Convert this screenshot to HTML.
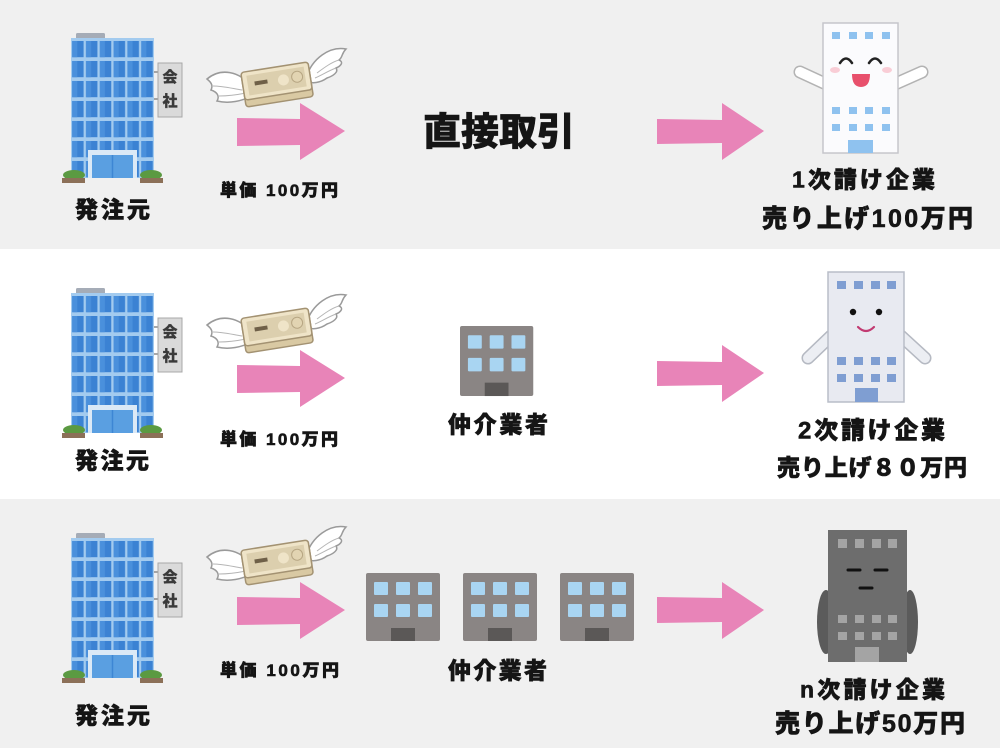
<!DOCTYPE html>
<html><head><meta charset="utf-8"><style>
html,body{margin:0;padding:0;background:#fff;}
svg{display:block;}
text{font-family:"Liberation Sans","Noto Sans CJK JP",sans-serif;font-weight:900;fill:#151515;stroke:#151515;stroke-width:0.6px;}
</style></head><body>
<svg width="1000" height="748" viewBox="0 0 1000 748" xmlns="http://www.w3.org/2000/svg">
<defs>
<pattern id="win" x="0" y="0" width="13.83" height="20" patternUnits="userSpaceOnUse">
<rect x="1.2" y="3" width="11.4" height="16.2" fill="#3b82d3"/>
<rect x="1.2" y="3" width="5" height="16.2" fill="#4a90dc"/>
</pattern>
<g id="bb">
 <rect x="5" y="-5" width="29" height="7" rx="1.5" fill="#a5acb7"/>
 <rect x="0" y="0" width="83" height="140" fill="#a3cbef"/>
 <rect x="0" y="0" width="83" height="140" fill="url(#win)"/>
 <rect x="17" y="112" width="49" height="28" fill="#dbe9f6"/>
 <rect x="21" y="117" width="41" height="23" fill="#5a9fe1"/>
 <line x1="41.5" y1="117" x2="41.5" y2="140" stroke="#3d86d4" stroke-width="1.5"/>
 <ellipse cx="3" cy="137" rx="11" ry="5" fill="#5b9a42"/>
 <rect x="-9" y="140" width="23" height="5" fill="#8c7058"/>
 <ellipse cx="80" cy="137" rx="11" ry="5" fill="#5b9a42"/>
 <rect x="69" y="140" width="23" height="5" fill="#8c7058"/>
 <line x1="83" y1="34" x2="87" y2="34" stroke="#8a8a8a" stroke-width="1.5"/>
 <line x1="83" y1="61" x2="87" y2="61" stroke="#8a8a8a" stroke-width="1.5"/>
 <rect x="87" y="25" width="24" height="54" fill="#dadada" stroke="#a8a8a8" stroke-width="1"/>
 <text x="99" y="44" font-size="15" text-anchor="middle" style="fill:#3a3a3a;stroke:#3a3a3a;stroke-width:0.3px">会</text>
 <text x="99" y="68" font-size="15" text-anchor="middle" style="fill:#3a3a3a;stroke:#3a3a3a;stroke-width:0.3px">社</text>
</g>
<g id="money">
 <path d="M252 88 C240 70 220 68 207 79 C212 83 213 86 211 90 C217 92 220 96 217 101 C229 104 242 101 252 96 Z" fill="#fff" stroke="#9a9a9a" stroke-width="1.5"/>
 <path d="M213 86 C222 86 230 88 242 90 M219 96 C228 96 236 95 246 93" fill="none" stroke="#b5b5b5" stroke-width="1"/>
 <path d="M306 78 C312 58 330 46 346 49 C341 54 343 57 339 60 C344 62 341 66 336 68 C339 72 333 76 327 78 C320 83 312 84 306 81 Z" fill="#fff" stroke="#9a9a9a" stroke-width="1.5"/>
 <path d="M317 73 C325 67 332 62 339 60 M315 78 C322 75 328 71 336 68" fill="none" stroke="#b5b5b5" stroke-width="1"/>
 <g transform="rotate(-9 277 84)">
  <rect x="243" y="71" width="68" height="31" rx="3" fill="#d9c9a3" stroke="#a39272" stroke-width="1.5"/>
  <rect x="243" y="67" width="68" height="28" rx="3" fill="#efe4c8" stroke="#a39272" stroke-width="1.5"/>
  <rect x="248" y="71" width="58" height="20" fill="#dccfae"/>
  <rect x="255" y="78" width="13" height="4" fill="#6f6048"/>
  <circle cx="284" cy="81" r="5.5" fill="#efe4c8"/>
  <circle cx="298" cy="80" r="5.5" fill="#e2d4b2" stroke="#b7a683" stroke-width="1"/>
 </g>
</g>
<g id="gb">
 <rect x="0" y="0" width="74" height="68" rx="2" fill="#8a8584"/>
 <rect x="8" y="9" width="14" height="13" rx="1" fill="#a9d5f2"/>
 <rect x="30" y="9" width="14" height="13" rx="1" fill="#a9d5f2"/>
 <rect x="52" y="9" width="14" height="13" rx="1" fill="#a9d5f2"/>
 <rect x="8" y="31" width="14" height="13" rx="1" fill="#a9d5f2"/>
 <rect x="30" y="31" width="14" height="13" rx="1" fill="#a9d5f2"/>
 <rect x="52" y="31" width="14" height="13" rx="1" fill="#a9d5f2"/>
 <rect x="25" y="55" width="24" height="13" fill="#5b5857"/>
</g>
</defs>

<!-- bands -->
<rect x="0" y="0" width="1000" height="249" fill="#f0f0f0"/>
<rect x="0" y="249" width="1000" height="250" fill="#ffffff"/>
<rect x="0" y="499" width="1000" height="249" fill="#f0f0f0"/>

<!-- blue buildings -->
<use href="#bb" transform="translate(71,38)"/>
<use href="#bb" transform="translate(71,293)"/>
<use href="#bb" transform="translate(71,538)"/>

<!-- money -->
<use href="#money"/>
<use href="#money" transform="translate(0,246)"/>
<use href="#money" transform="translate(0,478)"/>

<!-- arrows -->
<g fill="#e884b8">
<polygon points="237,118 300,119 300,103 345,131 300,160 300,145 237,146"/>
<polygon points="237,365 300,366 300,350 345,378 300,407 300,392 237,393"/>
<polygon points="237,597 300,598 300,582 345,610 300,639 300,624 237,625"/>
<polygon points="657,119 722,120 722,103 764,131 722,160 722,143 657,144"/>
<polygon points="657,361 722,362 722,345 764,373 722,402 722,385 657,386"/>
<polygon points="657,597 722,598 722,582 764,610 722,639 722,622 657,623"/>
</g>

<!-- intermediary buildings -->
<use href="#gb" transform="translate(460,326) scale(0.99,1.03)"/>
<use href="#gb" transform="translate(366,573)"/>
<use href="#gb" transform="translate(463,573)"/>
<use href="#gb" transform="translate(560,573)"/>

<!-- character 1 -->
<g>
 <path d="M826 84 L800 72" stroke="#b3b3b3" stroke-width="13" stroke-linecap="round"/>
 <path d="M826 84 L800 72" stroke="#fff" stroke-width="10" stroke-linecap="round"/>
 <path d="M895 84 L922 72" stroke="#b3b3b3" stroke-width="13" stroke-linecap="round"/>
 <path d="M895 84 L922 72" stroke="#fff" stroke-width="10" stroke-linecap="round"/>
 <rect x="823" y="23" width="75" height="130" fill="#fbfbfd" stroke="#c6c6cb" stroke-width="1.5"/>
 <g fill="#8fc2ef">
  <rect x="832" y="32" width="8" height="7"/><rect x="849" y="32" width="8" height="7"/><rect x="865" y="32" width="8" height="7"/><rect x="882" y="32" width="8" height="7"/>
  <rect x="832" y="107" width="8" height="7"/><rect x="849" y="107" width="8" height="7"/><rect x="865" y="107" width="8" height="7"/><rect x="882" y="107" width="8" height="7"/>
  <rect x="832" y="124" width="8" height="7"/><rect x="849" y="124" width="8" height="7"/><rect x="865" y="124" width="8" height="7"/><rect x="882" y="124" width="8" height="7"/>
  <rect x="848" y="140" width="25" height="13"/>
 </g>
 <ellipse cx="835" cy="70" rx="5" ry="3" fill="#f9cdd6"/>
 <ellipse cx="887" cy="70" rx="5" ry="3" fill="#f9cdd6"/>
 <path d="M840 63 Q846 54 852 63" fill="none" stroke="#222" stroke-width="2.5" stroke-linecap="round"/>
 <path d="M869 63 Q875 54 881 63" fill="none" stroke="#222" stroke-width="2.5" stroke-linecap="round"/>
 <path d="M852 74 L870 74 Q870 87 861 87 Q852 87 852 74 Z" fill="#e8506c"/>
</g>

<!-- character 2 -->
<g>
 <path d="M831 336 L808 358" stroke="#b5b9c2" stroke-width="13" stroke-linecap="round"/>
 <path d="M831 336 L808 358" stroke="#eceef3" stroke-width="10" stroke-linecap="round"/>
 <path d="M901 336 L925 358" stroke="#b5b9c2" stroke-width="13" stroke-linecap="round"/>
 <path d="M901 336 L925 358" stroke="#eceef3" stroke-width="10" stroke-linecap="round"/>
 <rect x="828" y="272" width="76" height="130" fill="#e8eaf1" stroke="#b9bdc8" stroke-width="1.5"/>
 <g fill="#7f9ed2">
  <rect x="837" y="281" width="9" height="8"/><rect x="854" y="281" width="9" height="8"/><rect x="871" y="281" width="9" height="8"/><rect x="887" y="281" width="9" height="8"/>
  <rect x="837" y="357" width="9" height="8"/><rect x="854" y="357" width="9" height="8"/><rect x="871" y="357" width="9" height="8"/><rect x="887" y="357" width="9" height="8"/>
  <rect x="837" y="374" width="9" height="8"/><rect x="854" y="374" width="9" height="8"/><rect x="871" y="374" width="9" height="8"/><rect x="887" y="374" width="9" height="8"/>
  <rect x="855" y="388" width="23" height="14"/>
 </g>
 <circle cx="853" cy="312" r="3.2" fill="#111"/>
 <circle cx="879" cy="312" r="3.2" fill="#111"/>
 <path d="M858 327 Q866 335 874 327" fill="none" stroke="#c23b72" stroke-width="2.2" stroke-linecap="round"/>
</g>

<!-- character n -->
<g>
 <ellipse cx="826" cy="622" rx="9" ry="32" fill="#5b5b5b"/>
 <ellipse cx="910" cy="622" rx="8" ry="32" fill="#5b5b5b"/>
 <rect x="828" y="530" width="79" height="132" fill="#6d6d6d"/>
 <g fill="#a4a4a4">
  <rect x="838" y="539" width="9" height="9"/><rect x="855" y="539" width="9" height="9"/><rect x="872" y="539" width="9" height="9"/><rect x="888" y="539" width="9" height="9"/>
  <rect x="838" y="615" width="9" height="8"/><rect x="855" y="615" width="9" height="8"/><rect x="872" y="615" width="9" height="8"/><rect x="888" y="615" width="9" height="8"/>
  <rect x="838" y="632" width="9" height="8"/><rect x="855" y="632" width="9" height="8"/><rect x="872" y="632" width="9" height="8"/><rect x="888" y="632" width="9" height="8"/>
  <rect x="855" y="647" width="24" height="15"/>
 </g>
 <line x1="848" y1="570" x2="860" y2="570" stroke="#111" stroke-width="3" stroke-linecap="round"/>
 <line x1="875" y1="570" x2="887" y2="570" stroke="#111" stroke-width="3" stroke-linecap="round"/>
 <line x1="860" y1="588" x2="872" y2="588" stroke="#111" stroke-width="3" stroke-linecap="round"/>
</g>

<!-- texts -->
<text x="75" y="217.3" font-size="23" textLength="75">発注元</text>
<text x="75" y="468.3" font-size="23" textLength="74">発注元</text>
<text x="75" y="723.3" font-size="23" textLength="75">発注元</text>

<text x="220" y="196.1" font-size="17" textLength="118">単価 100万円</text>
<text x="220" y="445.1" font-size="17" textLength="118">単価 100万円</text>
<text x="220" y="676.1" font-size="17" textLength="119">単価 100万円</text>

<text x="423" y="145" font-size="38" textLength="152">直接取引</text>

<text x="448" y="432.3" font-size="23" textLength="100">仲介業者</text>
<text x="448" y="678.3" font-size="23" textLength="99">仲介業者</text>

<text x="792" y="187.3" font-size="23" textLength="143">1次請け企業</text>
<text x="762" y="227" font-size="25" textLength="211">売り上げ100万円</text>

<text x="798" y="438.6" font-size="24" textLength="147">2次請け企業</text>
<text x="777" y="475.3" font-size="23" textLength="190">売り上げ８０万円</text>

<text x="800" y="697.3" font-size="23" textLength="145">n次請け企業</text>
<text x="775" y="732" font-size="25" textLength="190">売り上げ50万円</text>
</svg>
</body></html>
